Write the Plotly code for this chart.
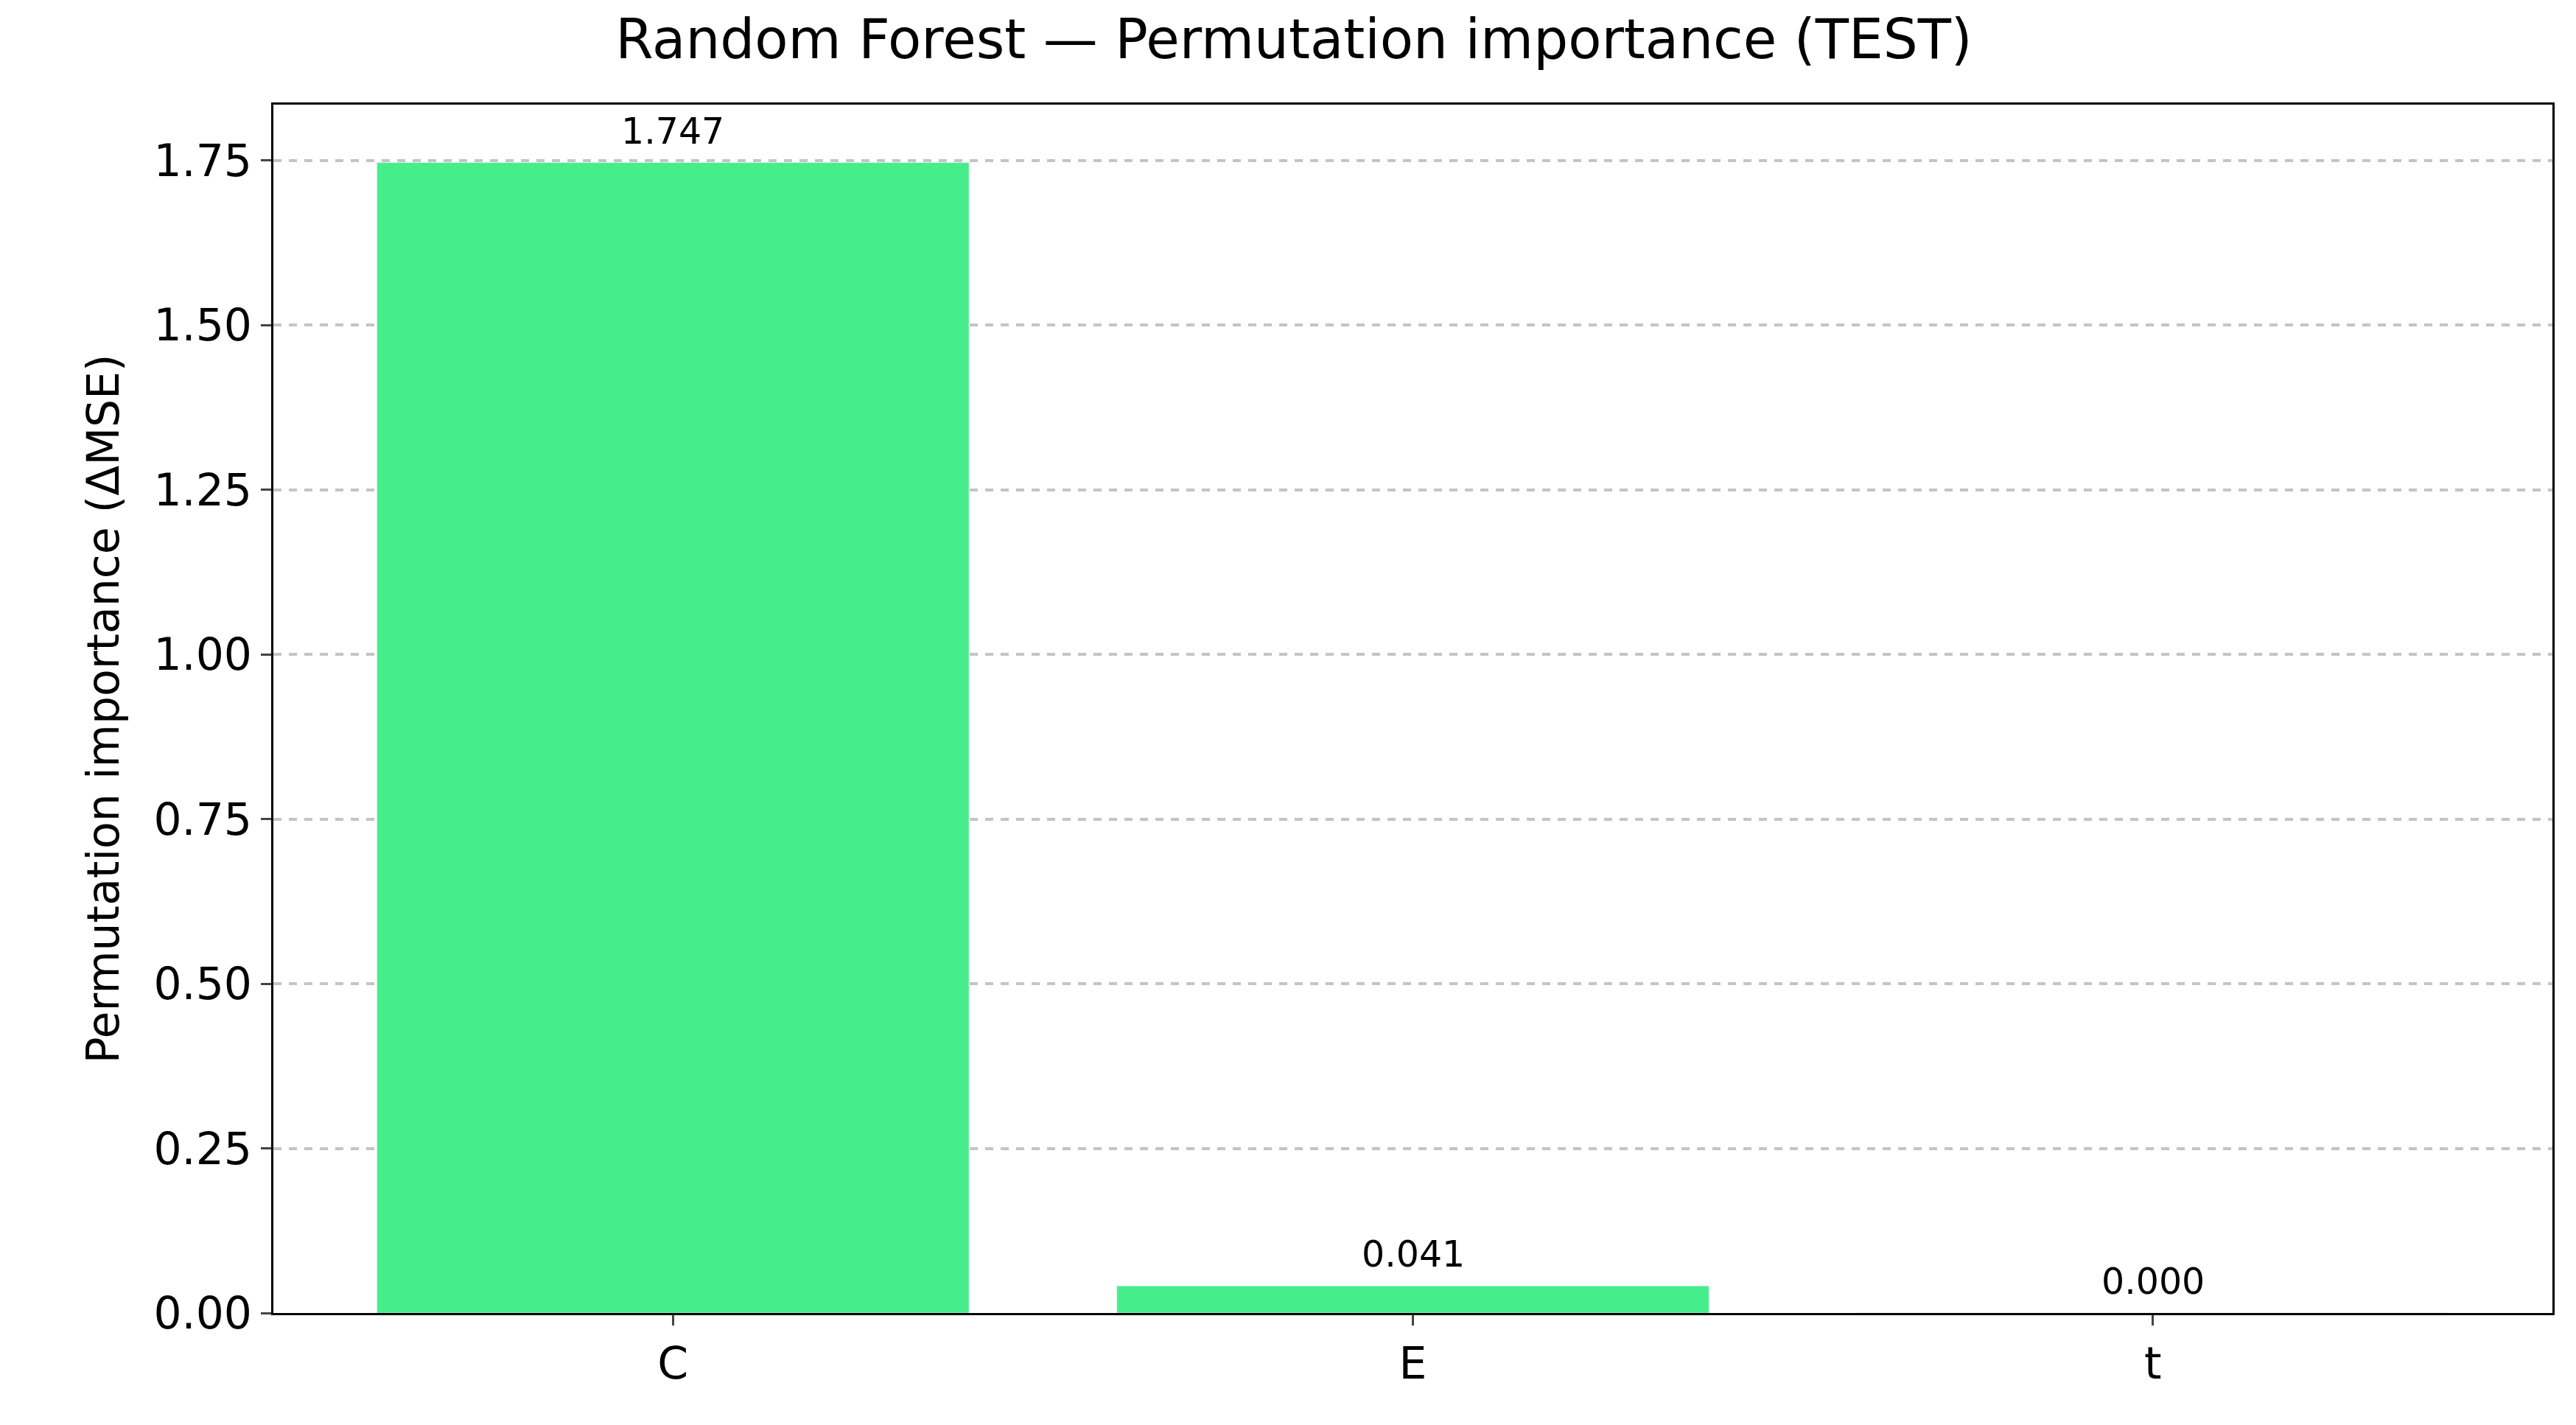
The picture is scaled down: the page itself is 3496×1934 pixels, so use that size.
import plotly.graph_objects as go

features = ["C", "E", "t"]
importance = [1.747, 0.041, 0.000]
labels = ["1.747", "0.041", "0.000"]
yticks = [0, 0.25, 0.5, 0.75, 1.0, 1.25, 1.5, 1.75]
yticklabels = ["0.00", "0.25", "0.50", "0.75", "1.00", "1.25", "1.50", "1.75"]

font = "DejaVu Sans"
fig = go.Figure(go.Bar(x=features, y=importance, marker_color="#45EE8B", width=0.8))
for f, v, l in zip(features, importance, labels):
    fig.add_annotation(x=f, y=v, text=l, showarrow=False, yanchor="bottom", yshift=12,
                       font=dict(family=font, size=49, color="black"))
fig.update_layout(
    width=3496, height=1934, plot_bgcolor="white", paper_bgcolor="white",
    margin=dict(l=363, r=40, t=134, b=160),
    title=dict(text="Random Forest — Permutation importance (TEST)", x=0.5, xanchor="center",
               y=0.99, yanchor="top", font=dict(family=font, size=74, color="black")),
    showlegend=False, bargap=0.2,
)
fig.update_xaxes(range=[-0.54, 2.54], showline=True, linecolor="black", linewidth=3, mirror=True,
                 ticks="outside", ticklen=14, tickwidth=3, tickfont=dict(family=font, size=60, color="black"))
fig.update_yaxes(range=[0, 1.835], tickvals=yticks, ticktext=yticklabels, showline=True, linecolor="black",
                 linewidth=3, mirror=True, ticks="outside", ticklen=14, tickwidth=3,
                 showgrid=True, gridcolor="#c4c4c4", griddash="dash", gridwidth=3.5, zeroline=False,
                 tickfont=dict(family=font, size=60, color="black"),
                 title=dict(text="Permutation importance (ΔMSE)", font=dict(family=font, size=60, color="black"), standoff=28))
fig.write_html("out.html")
